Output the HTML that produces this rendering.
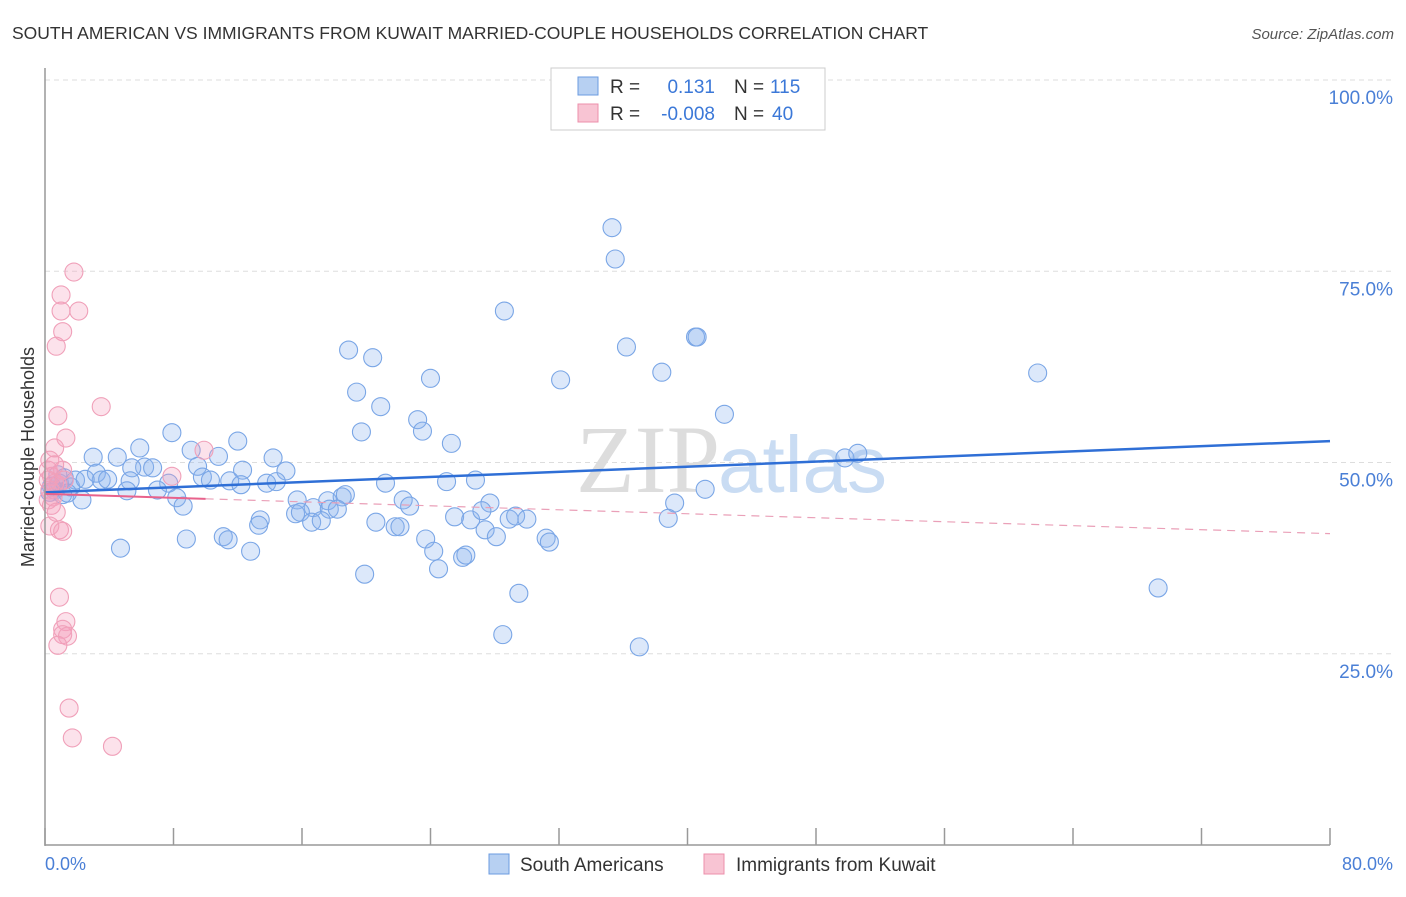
<!DOCTYPE html>
<html><head><meta charset="utf-8"><style>
body{margin:0;background:#fff;font-family:"Liberation Sans",sans-serif;}
#wrap{position:relative;width:1406px;height:892px;}
</style></head><body>
<div id="wrap">
<svg id="svg" width="1406" height="892" xmlns="http://www.w3.org/2000/svg">
<text x="12" y="39" font-size="17.5" fill="#333">SOUTH AMERICAN VS IMMIGRANTS FROM KUWAIT MARRIED-COUPLE HOUSEHOLDS CORRELATION CHART</text>
<text x="1394" y="39" font-size="15" fill="#555" font-style="italic" text-anchor="end">Source: ZipAtlas.com</text>
<text x="720" y="492" font-size="96" font-family="Liberation Serif,serif" fill="#ddd" text-anchor="end">ZIP</text>
<text x="718" y="492" font-size="80" fill="#c9dcf3">atlas</text>
<g id="grid"></g><g id="pts"></g><g id="trend"></g>
<line x1="45" y1="68" x2="45" y2="846" stroke="#999" stroke-width="1.5"/>
<line x1="45" y1="845" x2="1330" y2="845" stroke="#999" stroke-width="1.5"/>
<text transform="translate(34,457) rotate(-90)" font-size="18" fill="#333" text-anchor="middle">Married-couple Households</text>
<text x="45" y="870" font-size="18" fill="#4a7fd6">0.0%</text>
<text x="1393" y="870" font-size="18" fill="#4a7fd6" text-anchor="end">80.0%</text>
<g>
<rect x="551" y="68" width="274" height="62" fill="#fff" stroke="#ccc"/>
<rect x="578" y="77" width="20" height="18" fill="#b7d0f2" stroke="#6b9be0"/>
<rect x="578" y="104" width="20" height="18" fill="#f8c4d3" stroke="#ec8fab"/>
<text x="610" y="93" font-size="19" fill="#333">R =</text><text x="715" y="93" font-size="19" fill="#3b78d8" text-anchor="end">0.131</text>
<text x="734" y="93" font-size="19" fill="#333">N =</text><text x="770" y="93" font-size="19" fill="#3b78d8">115</text>
<text x="610" y="120" font-size="19" fill="#333">R =</text><text x="715" y="120" font-size="19" fill="#3b78d8" text-anchor="end">-0.008</text>
<text x="734" y="120" font-size="19" fill="#333">N =</text><text x="772" y="120" font-size="19" fill="#3b78d8">40</text>
</g>
<g>
<rect x="489" y="854" width="20" height="20" fill="#b7d0f2" stroke="#6b9be0"/>
<text x="520" y="871" font-size="19" fill="#333">South Americans</text>
<rect x="704" y="854" width="20" height="20" fill="#f8c4d3" stroke="#ec8fab"/>
<text x="736" y="871" font-size="19" fill="#333">Immigrants from Kuwait</text>
</g>
</svg>
</div>
<script>
const yTicks=[25,50,75,100];
const xTicks=[0,8,16,24,32,40,48,56,64,72,80];
const blueX=[35.3,35.5,28.6,36.2,40.5,40.6,18.9,20.4,38.4,24.0,32.1,61.8,19.4,20.9,42.3,23.2,23.5,19.7,25.3,12.0,7.9,5.9,3.0,4.5,9.1,10.8,14.2,49.8,50.6,6.2,6.7,5.4,9.5,12.3,15.0,3.2,3.5,3.9,5.3,7.7,9.8,10.3,11.5,12.2,13.8,14.4,21.2,25.0,26.8,7.0,5.1,8.2,8.6,15.7,17.6,16.7,18.5,18.7,17.7,22.3,22.7,27.7,41.1,2.3,13.4,13.3,15.6,15.9,16.6,17.2,18.2,20.6,21.8,22.1,25.5,26.5,27.2,27.4,28.1,28.9,29.3,30.0,39.2,38.8,31.2,31.4,23.7,24.2,26.0,26.2,8.8,11.1,11.4,12.8,4.7,19.9,24.5,29.5,69.3,28.5,37.0,0.9,1.2,0.6,1.6,1.9,0.3,0.8,1.1,2.5,1.4,0.4];
const blueY=[80.7,76.6,69.8,65.1,66.4,66.4,64.7,63.7,61.8,61.0,60.8,61.7,59.2,57.3,56.3,55.6,54.1,54.0,52.5,52.8,53.9,51.9,50.7,50.7,51.6,50.8,50.6,50.6,51.2,49.4,49.3,49.3,49.5,49.0,48.9,48.6,47.7,47.8,47.6,47.3,48.1,47.7,47.6,47.1,47.3,47.5,47.3,47.5,47.7,46.4,46.3,45.4,44.3,45.1,45.0,44.1,45.5,45.8,43.9,45.1,44.3,44.7,46.5,45.1,42.5,41.8,43.3,43.5,42.2,42.4,43.9,42.2,41.6,41.6,42.9,42.5,43.7,41.2,40.3,42.6,43.0,42.6,44.7,42.7,40.1,39.6,40.0,38.4,37.6,37.9,40.0,40.3,39.9,38.4,38.8,35.4,36.1,32.9,33.6,27.5,25.9,47.3,48.0,46.4,46.8,47.7,46.1,48.4,45.8,47.8,46.0,46.9];
const pinkX=[1.8,1.0,1.0,2.1,1.1,0.7,3.5,0.8,1.3,9.9,0.6,0.3,7.9,0.2,0.4,0.6,0.3,0.5,0.2,0.3,0.9,1.1,0.9,1.3,1.1,1.1,1.4,0.8,1.5,1.7,4.2,0.8,1.1,0.6,0.2,0.4,0.7,1.2];
const pinkY=[74.9,71.9,69.8,69.8,67.1,65.2,57.3,56.1,53.2,51.6,51.9,50.3,48.2,49.0,48.2,47.3,46.4,45.5,45.1,41.7,41.2,41.0,32.4,29.2,28.2,27.5,27.3,26.1,17.9,14.0,12.9,47.1,49.0,49.7,47.7,44.4,43.5,47.7];
const blueTrend=[46.1,52.8];
const pinkTrend=[45.9,40.7];
const pinkSolidEnd=10;
const X0=45,X1=1330,Y0=845,Y100=80;
const sx=v=>X0+(X1-X0)*v/80;
const sy=v=>Y0-(Y0-Y100)*v/100;
const NS="http://www.w3.org/2000/svg";
function mk(tag,attrs,parent){const e=document.createElementNS(NS,tag);for(const k in attrs)e.setAttribute(k,attrs[k]);parent.appendChild(e);return e;}
const grid=document.getElementById('grid');
yTicks.forEach(t=>{
 const l=mk('line',{x1:X0,x2:1393,y1:sy(t),y2:sy(t),stroke:'#ddd','stroke-dasharray':'5,4'},grid);
 
 
 const tx=mk('text',{x:1393,y:sy(t)+24,'font-size':19,fill:'#4a7fd6','text-anchor':'end'},grid);
 tx.textContent=t.toFixed(1)+'%';
 
 
});
xTicks.forEach(t=>{
 const l=mk('line',{x1:sx(t),x2:sx(t),y1:828,y2:845,stroke:'#999','stroke-width':1.5},grid);
 
 
});
const pts=document.getElementById('pts');
blueX.forEach((x,i)=>{
 const c=mk('circle',{cx:sx(x),cy:sy(blueY[i]),r:9,fill:'rgba(140,180,240,0.3)',stroke:'#7aa6e6','stroke-width':1.1},pts);
 
 
});
pinkX.forEach((x,i)=>{
 const c=mk('circle',{cx:sx(x),cy:sy(pinkY[i]),r:9,fill:'rgba(245,160,190,0.3)',stroke:'#f0a0b9','stroke-width':1.1},pts);
 
 
});
const tr=document.getElementById('trend');
const bl=mk('line',{x1:sx(0),y1:sy(blueTrend[0]),x2:sx(80),y2:sy(blueTrend[1]),stroke:'#2f6fd6','stroke-width':2.5},tr);


const pm=pinkTrend[0]+(pinkTrend[1]-pinkTrend[0])*pinkSolidEnd/80;
const ps=mk('line',{x1:sx(0),y1:sy(pinkTrend[0]),x2:sx(pinkSolidEnd),y2:sy(pm),stroke:'#e8628c','stroke-width':2},tr);


const pd=mk('line',{x1:sx(pinkSolidEnd),y1:sy(pm),x2:sx(80),y2:sy(pinkTrend[1]),stroke:'#eaa0b8','stroke-width':1.2,'stroke-dasharray':'8,6'},tr);


</script>
</body></html>
